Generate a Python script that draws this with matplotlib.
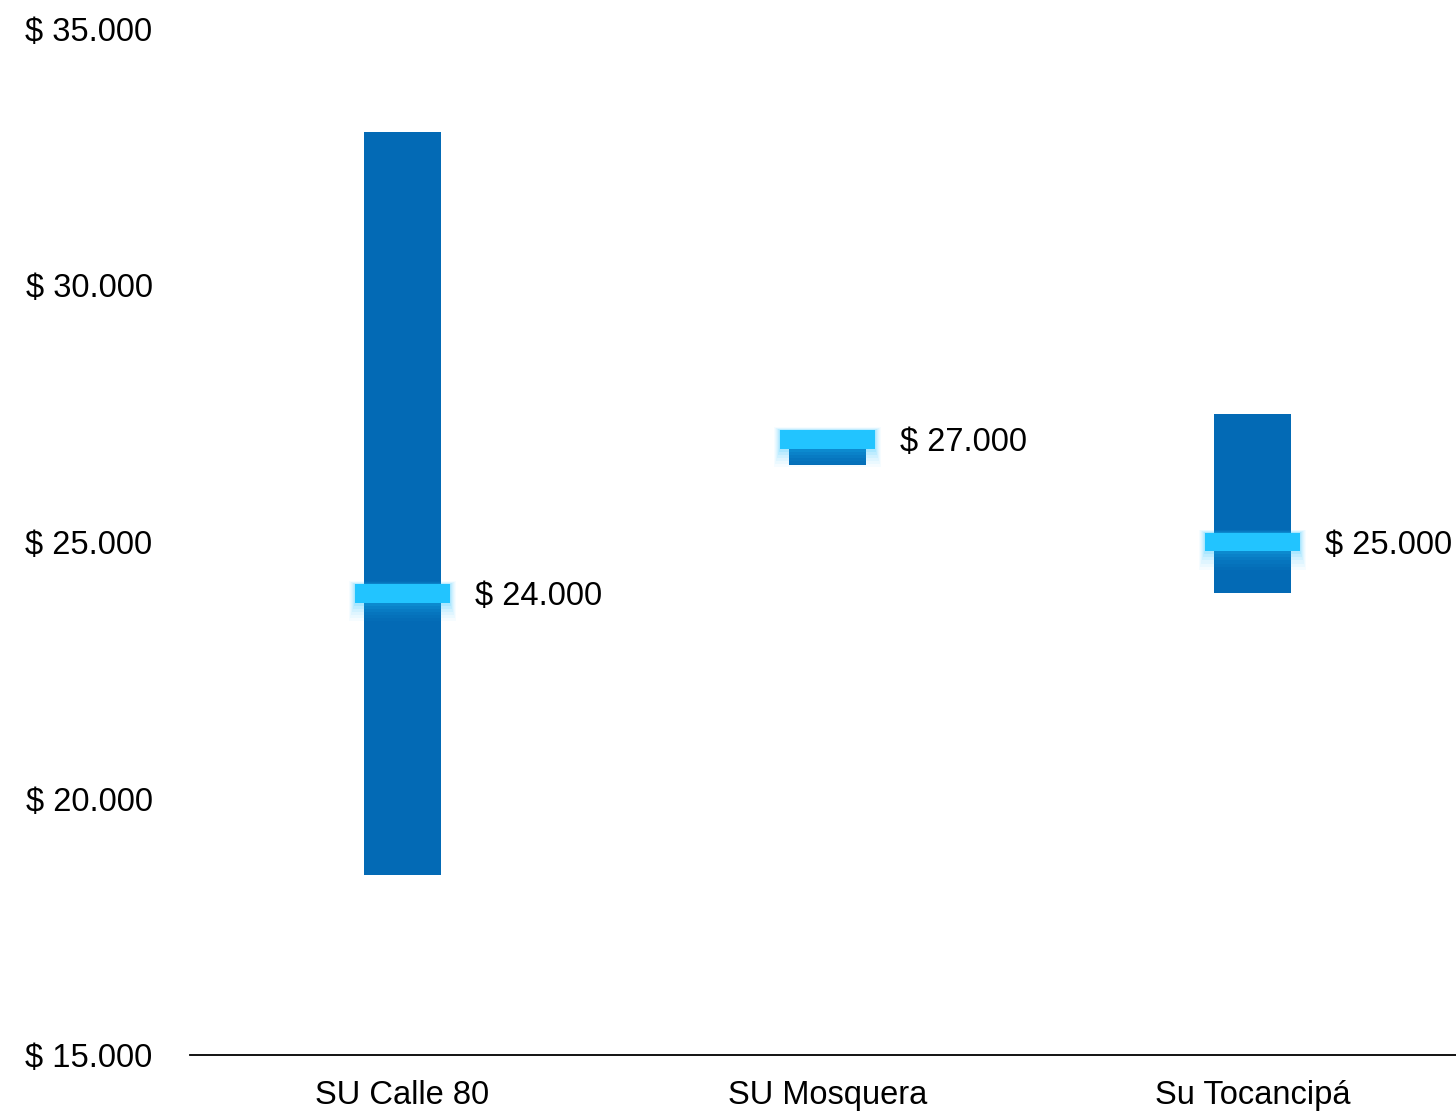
import matplotlib
matplotlib.use("Agg")
import matplotlib.pyplot as plt
import numpy as np

categories = ["SU Calle 80", "SU Mosquera", "Su Tocancipá"]
range_low = [18500, 26500, 24000]
range_high = [33000, 27000, 27500]
medians = [24000, 27000, 25000]
yticks = [15000, 20000, 25000, 30000, 35000]

def fmt(v):
    return "$ " + f"{v:,.0f}".replace(",", ".")

plt.rcParams['font.family'] = ['Liberation Sans', 'DejaVu Sans']

W, H = 1456, 1113
fig = plt.figure(figsize=(W / 100, H / 100), dpi=100)
left = 190 / W
bottom = (H - 1055) / H
ax = fig.add_axes([left, bottom, 1275 / W, 1026 / H])

x = np.arange(len(categories))
bar_w = 0.181
mark_w = 0.224
mark_h = 360
fs = 23.5

bar_color = "#036AB5"
mark_color = "#22C4FF"

ax.bar(x, np.array(range_high) - np.array(range_low), bottom=range_low,
       width=bar_w, color=bar_color, zorder=2)

# glow under markers
for i, m in enumerate(medians):
    for k, a in zip(range(6, 0, -1), [0.04, 0.05, 0.06, 0.08, 0.10, 0.12]):
        ext = k * 0.0025
        ax.bar(x[i], mark_h + k * 70, bottom=m - mark_h / 2 - k * 60,
               width=mark_w + 2 * ext, color=mark_color, alpha=a, zorder=3,
               linewidth=0)
ax.bar(x, [mark_h] * len(x), bottom=np.array(medians) - mark_h / 2,
       width=mark_w, color=mark_color, zorder=4)

for i, m in enumerate(medians):
    ax.text(x[i] + mark_w / 2 + 0.058, m - 60, fmt(m), ha="left", va="center",
            fontsize=fs, color="black", zorder=5)

ax.set_xlim(-0.5, 2.5)
ax.set_ylim(15000, 35000)
ax.set_yticks(yticks)
ax.set_yticklabels([fmt(v) for v in yticks], fontsize=fs)
ax.set_xticks(x)
ax.set_xticklabels(categories, fontsize=fs)
ax.tick_params(axis="y", length=0, pad=27)
ax.tick_params(axis="x", length=0, pad=18)
for s in ["top", "right", "left"]:
    ax.spines[s].set_visible(False)
ax.spines["bottom"].set_linewidth(1.3)
ax.spines["bottom"].set_color("black")

fig.savefig("out.png", dpi=100)
